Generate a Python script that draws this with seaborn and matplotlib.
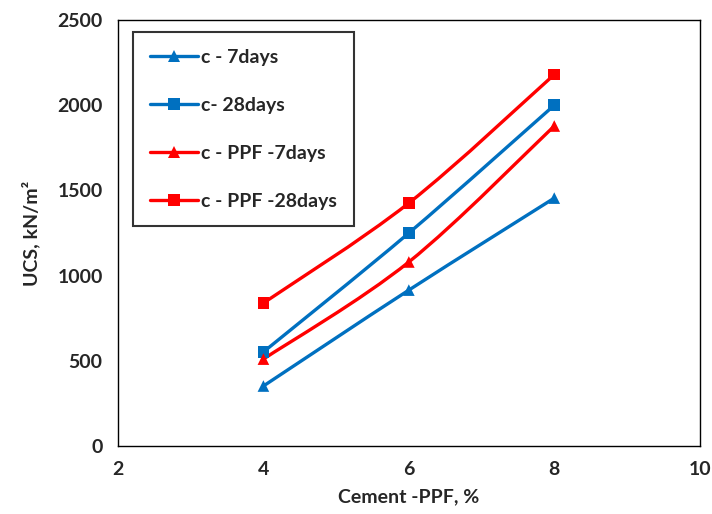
import numpy as np
import pandas as pd
import seaborn as sns
import matplotlib
matplotlib.use("Agg")
import matplotlib.pyplot as plt
from matplotlib.path import Path
from matplotlib.patches import PathPatch
from matplotlib.lines import Line2D

cement = [4, 6, 8]
c_7days = [352, 915, 1455]
c_28days = [552, 1250, 2000]
ppf_7days = [510, 1080, 1878]
ppf_28days = [839, 1426, 2180]

labels = ["c - 7days", "c- 28days", "c - PPF -7days", "c - PPF -28days"]
series = [c_7days, c_28days, ppf_7days, ppf_28days]
colors = ["#0070C0", "#0070C0", "#FF0000", "#FF0000"]
markers = ["^", "s", "^", "s"]

xticks = [2, 4, 6, 8, 10]
yticks = [0, 500, 1000, 1500, 2000, 2500]

sns.set_theme(style="white")
plt.rcParams["font.family"] = ["Lato", "DejaVu Sans"]
plt.rcParams["font.weight"] = "bold"

df = pd.DataFrame({
    "x": np.tile(cement, len(series)),
    "y": np.concatenate(series),
    "s": np.repeat(labels, len(cement)),
})

fig = plt.figure(figsize=(7.12, 5.14), dpi=100)
ax = fig.add_axes([0.1657, 0.1323, 0.817, 0.8287])

palette = dict(zip(labels, colors))
mk = dict(zip(labels, markers))
sns.scatterplot(data=df, x="x", y="y", hue="s", style="s", palette=palette,
                markers=mk, s=70, edgecolor="none", ax=ax, legend=False, zorder=3)


def smooth_path(xs, ys):
    pts = np.column_stack([xs, ys]).astype(float)
    n = len(pts)
    verts = [pts[0]]
    codes = [Path.MOVETO]
    for i in range(n - 1):
        p0 = pts[i - 1] if i > 0 else pts[i]
        p1 = pts[i]
        p2 = pts[i + 1]
        p3 = pts[i + 2] if i + 2 < n else pts[i + 1]
        c1 = p1 + (p2 - p0) / 6.0
        c2 = p2 - (p3 - p1) / 6.0
        verts += [c1, c2, p2]
        codes += [Path.CURVE4] * 3
    return Path(verts, codes)


for lab, ys, col in zip(labels, series, colors):
    ax.add_patch(PathPatch(smooth_path(cement, ys), facecolor="none",
                           edgecolor=col, lw=2.4, zorder=2))

ax.set_xlim(2, 10)
ax.set_ylim(0, 2500)
ax.set_xticks(xticks)
ax.set_yticks(yticks)
ax.tick_params(length=0, labelsize=14, pad=11)
for t in ax.get_xticklabels() + ax.get_yticklabels():
    t.set_fontweight("bold")
ax.set_xlabel("Cement -PPF, %", fontsize=14, fontweight="bold", labelpad=7)
ax.set_ylabel("UCS, kN/m²", fontsize=14, fontweight="bold", labelpad=12)
for sp in ax.spines.values():
    sp.set_color("black")
    sp.set_linewidth(1.0)

handles = [Line2D([0], [0], color=c, lw=2.4, marker=m, markersize=8,
                  markeredgewidth=0) for c, m in zip(colors, markers)]
leg = ax.legend(handles, labels, loc="upper left", bbox_to_anchor=(0.026, 0.972),
                frameon=True, fancybox=False, edgecolor="black",
                prop={"weight": "bold", "size": 14}, handlelength=2.5,
                handletextpad=0.15, labelspacing=1.6, borderpad=0.85,
                borderaxespad=0)
leg.get_frame().set_linewidth(1.5)

fig.savefig("out.png", dpi=100)
